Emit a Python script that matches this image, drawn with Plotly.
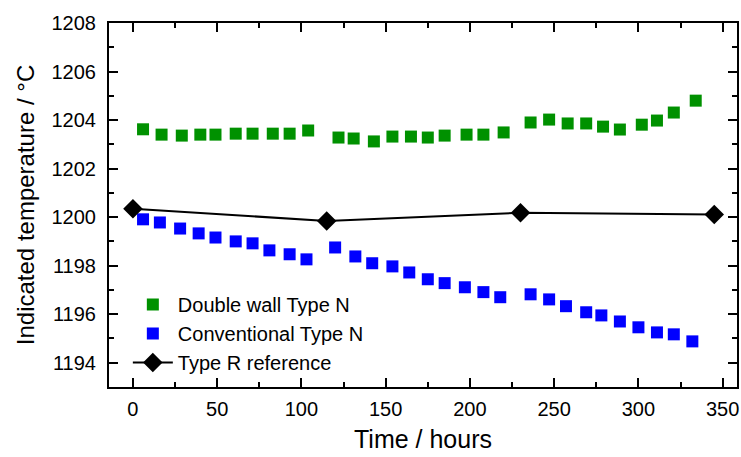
import plotly.graph_objects as go

# Double wall Type N (green)
green_time = [6, 17, 29, 40, 49, 61, 71, 83, 93, 104, 122, 131, 143, 154, 165,
              175, 185, 198, 208, 220, 236, 247, 258, 269, 279, 289, 302, 311, 321, 334]
green_temp = [1203.62, 1203.40, 1203.36, 1203.40, 1203.40, 1203.44, 1203.44, 1203.44,
              1203.44, 1203.57, 1203.28, 1203.24, 1203.12, 1203.32, 1203.32, 1203.28,
              1203.36, 1203.40, 1203.40, 1203.49, 1203.90, 1204.02, 1203.86, 1203.86,
              1203.73, 1203.61, 1203.81, 1203.98, 1204.31, 1204.80]

# Conventional Type N (blue)
blue_time = [6, 16, 28, 39, 49, 61, 71, 81, 93, 103, 120, 132, 142, 154, 164,
             175, 185, 197, 208, 218, 236, 247, 257, 269, 278, 289, 300, 311, 321, 332]
blue_temp = [1199.91, 1199.78, 1199.53, 1199.33, 1199.16, 1199.00, 1198.92, 1198.63,
             1198.47, 1198.26, 1198.75, 1198.38, 1198.10, 1197.97, 1197.72, 1197.44,
             1197.28, 1197.11, 1196.91, 1196.70, 1196.82, 1196.61, 1196.33, 1196.08,
             1195.95, 1195.70, 1195.46, 1195.25, 1195.17, 1194.88]

# Type R reference (black)
ref_time = [0, 115, 230, 345]
ref_temp = [1200.35, 1199.84, 1200.18, 1200.11]

FONT = "Liberation Sans, Arial, sans-serif"

fig = go.Figure()
fig.add_trace(go.Scatter(
    x=green_time, y=green_temp, mode="markers", name="Double wall Type N",
    marker=dict(symbol="square", size=12, color="#009100"),
))
fig.add_trace(go.Scatter(
    x=blue_time, y=blue_temp, mode="markers", name="Conventional Type N",
    marker=dict(symbol="square", size=12, color="#0000ff"),
))
fig.add_trace(go.Scatter(
    x=ref_time, y=ref_temp, mode="lines+markers", name="Type R reference",
    line=dict(color="black", width=2),
    marker=dict(symbol="diamond", size=15, color="black"),
))

axis_common = dict(
    showline=True, linecolor="black", linewidth=2, mirror="ticks",
    ticks="inside", ticklen=9, tickwidth=2, tickcolor="black",
    showgrid=False, zeroline=False,
    tickfont=dict(family=FONT, size=20, color="black"),
)

fig.update_xaxes(
    range=[-14.2, 358.5], tick0=0, dtick=50,
    minor=dict(ticks="inside", ticklen=5, tickwidth=2, tickcolor="black", dtick=25, tick0=0),
    title=dict(text="Time / hours", font=dict(family=FONT, size=25, color="black"), standoff=11),
    ticklabelstandoff=3,
    **axis_common,
)
fig.update_yaxes(
    range=[1193.0, 1208.0], tick0=1194, dtick=2,
    minor=dict(ticks="inside", ticklen=5, tickwidth=2, tickcolor="black", dtick=1),
    title=dict(text="Indicated temperature / °C", font=dict(family=FONT, size=24, color="black"), standoff=10),
    ticklabelstandoff=7,
    **axis_common,
)

fig.update_layout(
    width=741, height=457,
    margin=dict(l=109, r=4, t=23, b=70, autoexpand=False),
    paper_bgcolor="white", plot_bgcolor="white",
    font=dict(family=FONT, color="black"),
    legend=dict(
        x=0.03, y=0.28, xanchor="left", yanchor="top",
        bgcolor="rgba(0,0,0,0)", borderwidth=0,
        font=dict(family=FONT, size=20, color="black"),
        itemwidth=40,
    ),
)

fig.write_html(
    "out.html",
    config={"displayModeBar": False},
    post_script="document.body.style.margin='0px';document.body.style.padding='0px';",
)
